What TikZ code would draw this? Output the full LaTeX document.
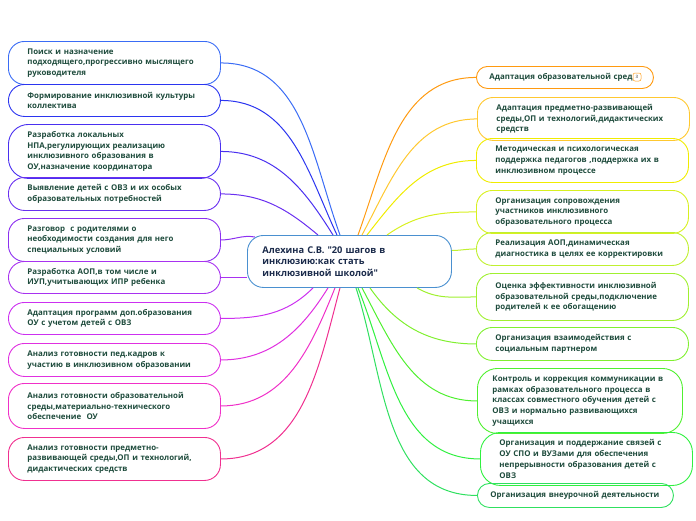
\documentclass[tikz,border=0pt]{standalone}
\usepackage{fontspec}
\setmainfont{Open Sans}

\definecolor{txtgreen}{HTML}{1E4B3C}
\definecolor{hubtext}{HTML}{1A2A4A}
\definecolor{hubline}{HTML}{4A90D0}
\definecolor{cl1}{HTML}{3A6CF5}
\definecolor{cl2}{HTML}{2B35F0}
\definecolor{cl3}{HTML}{4A30F0}
\definecolor{cl4}{HTML}{6A30F0}
\definecolor{cl5}{HTML}{8C30F0}
\definecolor{cl6}{HTML}{A832F0}
\definecolor{cl7}{HTML}{CC30F0}
\definecolor{cl8}{HTML}{E030E0}
\definecolor{cl9}{HTML}{F030C8}
\definecolor{cl10}{HTML}{F03090}
\definecolor{cr1}{HTML}{FF9A10}
\definecolor{cr2}{HTML}{FFC830}
\definecolor{cr3}{HTML}{F0EC00}
\definecolor{cr4}{HTML}{D8F020}
\definecolor{cr5}{HTML}{C0F030}
\definecolor{cr6}{HTML}{A0F030}
\definecolor{cr7}{HTML}{80F030}
\definecolor{cr8}{HTML}{50F030}
\definecolor{cr9}{HTML}{30F040}
\definecolor{cr10}{HTML}{30E060}

\tikzset{
  leaf/.style={draw=#1, line width=0.9pt, rounded corners=16pt, anchor=north west,
    align=left, inner xsep=19pt, inner ysep=1pt, text width=174pt, text=txtgreen,
    font=\fontsize{7.9}{10.8}\selectfont\bfseries},
  hubbox/.style={draw=hubline, line width=0.9pt, rounded corners=16pt, anchor=north west,
    align=left, inner xsep=15pt, inner ysep=1pt, text width=174pt, text=hubtext,
    minimum height=52pt, font=\fontsize{9.3}{11.5}\selectfont\bfseries},
  branch/.style={draw=#1, line width=1pt},
}

\begin{document}
\begin{tikzpicture}[x=1pt, y=-1pt]
	\useasboundingbox (0,0) rectangle (696,520);

	% centre
	\node[hubbox] (hub) at (247,235) {Алехина С.В. \textquotedbl20 шагов в\\инклюзию:как стать\\инклюзивной школой\textquotedbl};

	% left side
	\node[leaf=cl1, minimum height=43pt] (l1) at (8,41) {Поиск и назначение\\подходящего,прогрессивно мыслящего\\руководителя};
	\node[leaf=cl2, minimum height=32pt] (l2) at (8,84) {Формирование инклюзивной культуры\\коллектива};
	\node[leaf=cl3, minimum height=54pt, rounded corners=20pt] (l3) at (8,124) {Разработка локальных\\НПА,регулирующих реализацию\\инклюзивного образования в\\ОУ,назначение координатора};
	\node[leaf=cl4, minimum height=33pt] (l4) at (8,177) {Выявление детей с ОВЗ и их особых\\образовательных потребностей};
	\node[leaf=cl5, minimum height=43pt] (l5) at (8,218) {Разговор \ с родителями о\\необходимости создания для него\\специальных условий};
	\node[leaf=cl6, minimum height=32pt] (l6) at (8,261) {Разработка АОП,в том числе и\\ИУП,учитывающих ИПР ребенка};
	\node[leaf=cl7, minimum height=32pt] (l7) at (8,302) {Адаптация программ доп.образования\\ОУ с учетом детей с ОВЗ};
	\node[leaf=cl8, minimum height=33pt] (l8) at (8,343) {Анализ готовности пед.кадров к\\участию в инклюзивном образовании};
	\node[leaf=cl9, minimum height=45pt] (l9) at (8,383) {Анализ готовности образовательной\\среды,материально-технического\\обеспечение \ ОУ};
	\node[leaf=cl10, minimum height=43pt] (l10) at (8,437) {Анализ готовности предметно-\\развивающей среды,ОП и технологий,\\дидактических средств};

	% right side
	\node[leaf=cr1, minimum height=22pt, rounded corners=11pt, inner xsep=13pt, text width=151pt] (r1) at (476,66) {Адаптация образовательной сред};
	\node[draw=cr1, line width=0.5pt, rounded corners=2pt, inner sep=0.8pt, minimum size=8pt,
	  text=gray, font=\fontsize{4.5}{5}\selectfont\bfseries] (badge) at (637,77) {3};
	\node[leaf=cr2, minimum height=43pt] (r2) at (477,97) {Адаптация предметно-развивающей\\среды,ОП и технологий,дидактических\\средств};
	\node[leaf=cr3, minimum height=44pt] (r3) at (476,138) {Методическая и психологическая\\поддержка педагогов ,поддержка их в\\инклюзивном процессе};
	\node[leaf=cr4, minimum height=43pt] (r4) at (476,190) {Организация сопровождения\\участников инклюзивного\\образовательного процесса};
	\node[leaf=cr5, minimum height=33pt] (r5) at (476,232) {Реализация АОП,динамическая\\диагностика в целях ее корректировки};
	\node[leaf=cr6, minimum height=47pt] (r6) at (476,273) {Оценка эффективности инклюзивной\\образовательной среды,подключение\\родителей к ее обогащению};
	\node[leaf=cr7, minimum height=33pt] (r7) at (476,327) {Организация взаимодействия с\\социальным партнером};
	\node[leaf=cr8, minimum height=65pt, rounded corners=20pt, inner xsep=15pt, text width=175pt] (r8) at (477,368) {Контроль и коррекция коммуникации в\\рамках образовательного процесса в\\классах совместного обучения детей с\\ОВЗ и нормально развивающихся\\учащихся};
	\node[leaf=cr9, minimum height=53pt, rounded corners=20pt] (r9) at (480,432) {Организация и поддержание связей с\\ОУ СПО и ВУЗами для обеспечения\\непрерывности образования детей с\\ОВЗ};
	\node[leaf=cr10, minimum height=24pt, rounded corners=12pt, inner xsep=13pt, text width=170pt] (r10) at (477,483) {\mbox{Организация внеурочной деятельности}};

	% branches, left
	\draw[branch=cl1] (l1.east) to[out=0, in=110] ([xshift=93pt]hub.north west);
	\draw[branch=cl2] (l2.east) to[out=0, in=115] ([xshift=90pt]hub.north west);
	\draw[branch=cl3] (l3.east) to[out=0, in=122] ([xshift=86pt]hub.north west);
	\draw[branch=cl4] (l4.east) to[out=0, in=140] ([xshift=71pt]hub.north west);
	\draw[branch=cl5] (l5.east) to[out=0, in=170] ([xshift=8pt, yshift=-2pt]hub.north west);
	\draw[branch=cl6] (l6.east) to[out=0, in=180] ([yshift=-16pt]hub.west);
	\draw[branch=cl7] (l7.east) to[out=0, in=-135] ([xshift=66pt]hub.south west);
	\draw[branch=cl8] (l8.east) to[out=0, in=-122] ([xshift=81pt]hub.south west);
	\draw[branch=cl9] (l9.east) to[out=0, in=-112] ([xshift=88pt]hub.south west);
	\draw[branch=cl10] (l10.east) to[out=0, in=-105] ([xshift=93pt]hub.south west);

	% branches, right
	\draw[branch=cr1] ([xshift=111pt]hub.north west) to[out=70, in=180] (r1.west);
	\draw[branch=cr2] ([xshift=115pt]hub.north west) to[out=62, in=180] (r2.west);
	\draw[branch=cr3] ([xshift=120pt]hub.north west) to[out=52, in=180] (r3.west);
	\draw[branch=cr4] ([xshift=140pt]hub.north west) to[out=35, in=180] (r4.west);
	\draw[branch=cr5] ([yshift=11pt]hub.east) to[out=0, in=180] (r5.west);
	\draw[branch=cr6] ([xshift=170pt]hub.south west) to[out=-30, in=180] (r6.west);
	\draw[branch=cr7] ([xshift=123pt]hub.south west) to[out=-55, in=180] (r7.west);
	\draw[branch=cr8] ([xshift=115pt]hub.south west) to[out=-62, in=180] (r8.west);
	\draw[branch=cr9] ([xshift=111pt]hub.south west) to[out=-68, in=180] (r9.west);
	\draw[branch=cr10] ([xshift=109pt]hub.south west) to[out=-72, in=180] (r10.west);
\end{tikzpicture}
\end{document}
